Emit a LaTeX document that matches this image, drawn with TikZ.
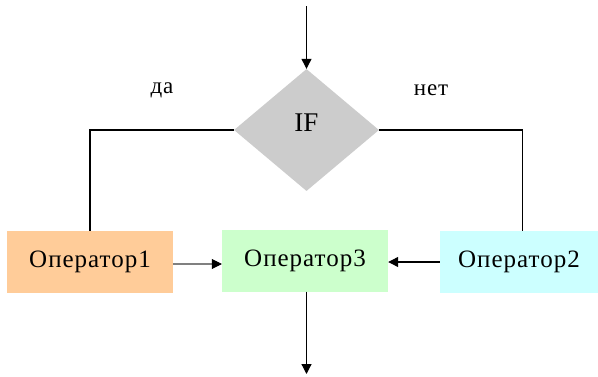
\documentclass[tikz,border=0pt]{standalone}
\usepackage{fontspec}
\setmainfont{Liberation Serif}
\newfontfamily\widefont[LetterSpace=4]{Liberation Serif}
\usetikzlibrary{arrows.meta,shapes.geometric}
\begin{document}
\begin{tikzpicture}[x=1pt,y=-1pt,
  box/.style={draw=none,minimum width=166pt,minimum height=62pt,inner sep=0pt,font=\widefont\fontsize{25}{28}\selectfont},
  lbl/.style={font=\widefont\fontsize{23}{26}\selectfont},
  conn/.style={line width=1.2pt,black},
  arr/.style={conn,-{Triangle[length=10pt,width=10pt]}}]
\useasboundingbox (0,0) rectangle (598,376);
\node[diamond,fill={rgb,255:red,204;green,204;blue,204},minimum width=145pt,minimum height=122pt,inner sep=0pt,aspect=1.19] (if) at (306.5,130) {};
\node[font=\fontsize{27}{30}\selectfont] (iftext) at (306.5,123) {IF};
\node[box,fill={rgb,255:red,255;green,204;blue,153}] (op1) at (90,262) {Оператор1};
\node[box,fill={rgb,255:red,204;green,255;blue,204}] (op3) at (305,260.5) {Оператор3};
\node[box,fill={rgb,255:red,204;green,255;blue,255},minimum width=170pt] (op2) at (525,262) {\hspace*{-12pt}Оператор2};
\node[lbl] (da) at (162,90) {да};
\node[lbl] (net) at (431,90) {нет};
\coordinate (top) at (306.5,6);
\coordinate (bot) at (306.5,374);
\draw[arr] (top) -- (if.north);
\draw[conn] (if.west) -| (op1.north);
\draw[conn] (if.east) -| (op2.north -| 522.5,0);
\draw[draw=gray,line width=1.8pt,-{Triangle[length=10pt,width=10pt,color=black,line width=0.5pt]}] (op1.east |- 0,264) -- (op3.west |- 0,264);
\draw[arr] (op2.west |- 0,262) -- (op3.east |- 0,262);
\draw[arr] (op3.south -| 306.5,0) -- (bot);
\end{tikzpicture}
\end{document}
